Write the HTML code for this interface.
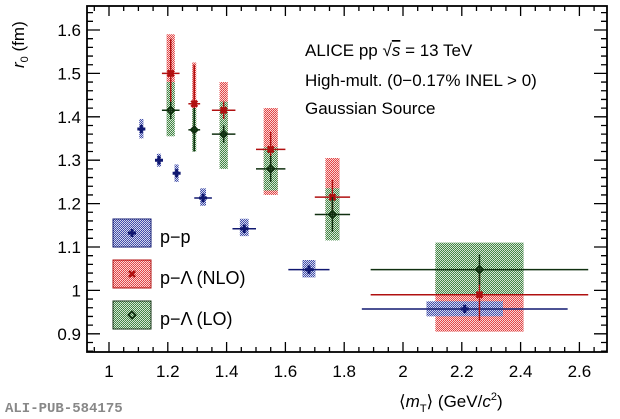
<!DOCTYPE html><html><head><style>body{margin:0;background:#fff}svg{display:block;font-family:"Liberation Sans",sans-serif}</style></head><body>
<svg id="s" width="620" height="419" xmlns="http://www.w3.org/2000/svg">
<defs>
<pattern id="pb" width="2" height="2" patternUnits="userSpaceOnUse"><rect width="2" height="2" fill="#fff"/><path d="M0,2L2,0" stroke="#2b3aa0" stroke-width="0.9"/></pattern>
<pattern id="pr" width="2" height="2" patternUnits="userSpaceOnUse"><rect width="2" height="2" fill="#fff"/><path d="M0,2L2,0" stroke="#e03030" stroke-width="0.9"/></pattern>
<pattern id="pg" width="2" height="2" patternUnits="userSpaceOnUse"><rect width="2" height="2" fill="#fff"/><path d="M0,2L2,0" stroke="#2e7a30" stroke-width="0.9"/></pattern>
</defs>
<g id="g"></g>
<text x="305" y="56" font-size="17">ALICE pp <tspan>√</tspan><tspan text-decoration="overline" font-style="italic">s</tspan> = 13 TeV</text>
<text x="305" y="86" font-size="17">High-mult. (0−0.17% INEL &gt; 0)</text>
<text x="305" y="114" font-size="17">Gaussian Source</text>
<text x="160" y="243" font-size="18">p−p</text>
<text x="160" y="284" font-size="18">p−Λ (NLO)</text>
<text x="160" y="325" font-size="18">p−Λ (LO)</text>
<text x="399" y="407" font-size="17">⟨<tspan font-style="italic">m</tspan><tspan font-size="11" dy="5">T</tspan><tspan dy="-5">⟩  (GeV/</tspan><tspan font-style="italic">c</tspan><tspan font-size="11" dy="-7">2</tspan><tspan dy="7">)</tspan></text>
<text transform="translate(24,68) rotate(-90)" font-size="17"><tspan font-style="italic">r</tspan><tspan font-size="11" dy="4">0</tspan><tspan dy="-4"> (fm)</tspan></text>
<text x="5" y="412" font-size="14" font-weight="bold" fill="#888" font-family="Liberation Mono,monospace">ALI-PUB-584175</text>
</svg>
<script>
const g=document.getElementById('g');let h='';
const X=x=>109+(x-1)*294, Y=v=>30+(1.6-v)*434;
const L=87,R=607,T=6,B=352;
const pp=[[1.11,1.372,.007,.012,1.35,1.395,0],[1.17,1.30,.007,.012,1.285,1.315,0],[1.23,1.27,.007,.012,1.25,1.29,0],[1.32,1.213,.01,.03,1.195,1.235,.03],[1.46,1.142,.015,.04,1.125,1.165,.04],[1.68,1.048,.022,.07,1.03,1.07,.07],[2.21,.957,.13,.35,.94,.975,.35]];
const nlo=[[1.21,1.50,.014,.03,1.41,1.59],[1.29,1.43,.007,.02,1.36,1.525],[1.39,1.415,.014,.04,1.33,1.48],[1.55,1.325,.024,.05,1.22,1.42],[1.76,1.215,.024,.06,1.13,1.305],[2.26,.99,.15,.37,.905,1.03]];
const lo=[[1.21,1.415,.014,.03,1.355,1.48],[1.29,1.37,.007,.02,1.32,1.42],[1.39,1.36,.014,.04,1.28,1.435],[1.55,1.28,.024,.05,1.23,1.33],[1.76,1.175,.024,.06,1.115,1.235],[2.26,1.048,.15,.37,.99,1.11]];
function box(d,p){d.forEach(a=>{h+=`<rect x="${X(a[0]-a[2])}" y="${Y(a[5])}" width="${X(a[0]+a[2])-X(a[0]-a[2])}" height="${Y(a[4])-Y(a[5])}" fill="url(#${p})"/>`})}
function pts(d,c,m,ey){d.forEach((a,i)=>{const x=X(a[0]),y=Y(a[1]),xe=a[3];
h+=`<line x1="${X(a[0]-xe)}" x2="${X(a[0]+xe)}" y1="${y}" y2="${y}" stroke="${c}" stroke-width="1.5"/>`;
const e=ey[i];h+=`<line x1="${x}" x2="${x}" y1="${Y(a[1]+e)}" y2="${Y(a[1]-e)}" stroke="${c}" stroke-width="1.5"/>`;
if(m=='+')h+=`<path d="M${x-4},${y}h8M${x},${y-4}v8" stroke="${c}" stroke-width="3"/>`;
else if(m=='x')h+=`<path d="M${x-3},${y-3}l6,6M${x+3},${y-3}l-6,6" stroke="${c}" stroke-width="2.5"/>`;
else h+=`<path d="M${x},${y-3.5}l3.5,3.5l-3.5,3.5l-3.5,-3.5z" fill="none" stroke="${c}" stroke-width="1.8"/><circle cx="${x}" cy="${y}" r="1.2" fill="${c}"/>`;})}
box(nlo,'pr');box(lo,'pg');box(pp,'pb');
pts(pp.map(a=>[a[0],a[1],0,a[6]||.01]),'#101870','+',[.01,.01,.01,.01,.01,.01,.01]);
pts(nlo.map(a=>[a[0],a[1],0,a[3]]),'#b01010','x',[.08,.09,.02,.04,.04,.06]);
pts(lo.map(a=>[a[0],a[1],0,a[3]]),'#103010','o',[.02,.05,.02,.03,.04,.035]);
[['pb','#101870','+',233],['pr','#b01010','x',274],['pg','#103010','o',315]].forEach(l=>{h+=`<rect x="113" y="${l[3]-14}" width="38" height="28" fill="url(#${l[0]})" stroke="${l[1]}" stroke-width="1"/>`;
const x=132,y=l[3];if(l[2]=='+')h+=`<path d="M${x-4},${y}h8M${x},${y-4}v8" stroke="${l[1]}" stroke-width="3"/>`;else if(l[2]=='x')h+=`<path d="M${x-3},${y-3}l6,6M${x+3},${y-3}l-6,6" stroke="${l[1]}" stroke-width="2.5"/>`;else h+=`<path d="M${x},${y-3.5}l3.5,3.5l-3.5,3.5l-3.5,-3.5z" fill="none" stroke="${l[1]}" stroke-width="1.8"/>`;});
h+=`<rect x="${L}" y="${T}" width="${R-L}" height="${B-T}" fill="none" stroke="#000" stroke-width="1.8"/>`;
for(let v=0.85;v<=2.75;v+=0.05){const x=X(v);if(x<L||x>R)continue;const maj=Math.abs(v*5-Math.round(v*5))<1e-6;const l=maj?10:5;h+=`<path d="M${x},${B}v-${l}M${x},${T}v${l}" stroke="#000" stroke-width="1.3"/>`;if(maj&&v>0.99&&v<2.61)h+=`<text x="${x}" y="377" font-size="17" text-anchor="middle">${+v.toFixed(1)}</text>`;}
for(let v=0.86;v<=1.66;v+=0.02){const y=Y(v);if(y<T||y>B)continue;const maj=Math.abs(v*10-Math.round(v*10))<1e-6;const l=maj?13:6;h+=`<path d="M${L},${y}h${l}M${R},${y}h-${l}" stroke="#000" stroke-width="1.3"/>`;if(maj)h+=`<text x="${L-6}" y="${y+6}" font-size="17" text-anchor="end">${+v.toFixed(1)}</text>`;}
g.innerHTML=h;
</script></body></html>
